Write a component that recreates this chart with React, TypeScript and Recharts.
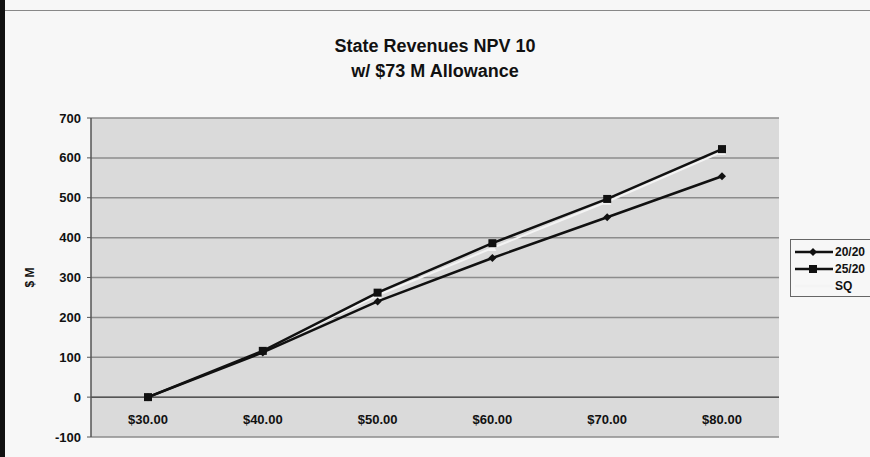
import React from "react";
import {
  LineChart,
  Line,
  XAxis,
  YAxis,
  CartesianGrid,
  ReferenceLine,
} from "recharts";

const prices = ["$30.00", "$40.00", "$50.00", "$60.00", "$70.00", "$80.00"];
const s2020 = [0, 112, 240, 349, 451, 554];
const s2520 = [0, 116, 262, 386, 497, 622];
const sq = [0, 116, 255, 374, 490, 615];
const yTicks = [-100, 0, 100, 200, 300, 400, 500, 600, 700];

const data = prices.map((p, i) => ({
  price: p,
  "20/20": s2020[i],
  "25/20": s2520[i],
  SQ: sq[i],
}));

const font = "'Liberation Sans', Arial, sans-serif";

const Diamond = (props: any) => {
  const { cx, cy } = props;
  if (cx == null || cy == null) return null;
  const r = 4;
  return (
    <polygon
      points={`${cx},${cy - r} ${cx + r},${cy} ${cx},${cy + r} ${cx - r},${cy}`}
      fill="#111"
    />
  );
};

const Square = (props: any) => {
  const { cx, cy } = props;
  if (cx == null || cy == null) return null;
  return <rect x={cx - 4} y={cy - 4} width={8} height={8} fill="#111" />;
};

const WhiteTri = (props: any) => {
  const { cx, cy } = props;
  if (cx == null || cy == null) return null;
  return (
    <polygon
      points={`${cx},${cy - 4} ${cx + 4},${cy + 3} ${cx - 4},${cy + 3}`}
      fill="#f4f4f4"
    />
  );
};

const XTick = (props: any) => {
  const { x, y, payload } = props;
  return (
    <text
      x={x}
      y={y - 13}
      textAnchor="middle"
      fontFamily={font}
      fontWeight="bold"
      fontSize={13}
      fill="#111"
    >
      {payload.value}
    </text>
  );
};

const legendRows = [
  { name: "20/20", color: "#111", mark: "d" },
  { name: "25/20", color: "#111", mark: "s" },
  { name: "SQ", color: "#f4f4f4", mark: "t" },
];

const LegendBox = () => (
  <div
    style={{
      position: "absolute",
      left: 790,
      top: 239,
      border: "1px solid #666",
      borderRight: "none",
      background: "#f7f7f7",
      width: 90,
      padding: "3px 0 2px 4px",
      fontFamily: font,
      fontWeight: "bold",
      fontSize: 12,
      color: "#111",
    }}
  >
    {legendRows.map((r) => (
      <div
        key={r.name}
        style={{ display: "flex", alignItems: "center", height: 17 }}
      >
        <svg width={40} height={12}>
          <line x1={0} y1={6} x2={38} y2={6} stroke={r.color} strokeWidth={2.5} />
          {r.mark === "d" && (
            <polygon points="18,2 22,6 18,10 14,6" fill={r.color} />
          )}
          {r.mark === "s" && (
            <rect x={14} y={2} width={8} height={8} fill={r.color} />
          )}
        </svg>
        <span>{r.name}</span>
      </div>
    ))}
  </div>
);

export default function App() {
  return (
    <div
      style={{
        position: "absolute",
        left: 0,
        top: 0,
        width: 870,
        height: 457,
        background: "#f7f7f7",
        overflow: "hidden",
      }}
    >
      <div
        style={{
          position: "absolute",
          left: 0,
          top: 0,
          width: 5,
          height: 457,
          background: "#111",
        }}
      />
      <div
        style={{
          position: "absolute",
          left: 5,
          top: 10,
          width: 865,
          height: 1,
          background: "#888",
        }}
      />
      <div
        style={{
          position: "absolute",
          top: 34,
          left: 0,
          width: 870,
          textAlign: "center",
          fontFamily: font,
          fontWeight: "bold",
          fontSize: 18,
          lineHeight: "25px",
          color: "#111",
        }}
      >
        <div>State Revenues NPV 10</div>
        <div>w/ $73 M Allowance</div>
      </div>
      <div style={{ position: "absolute", left: 0, top: 0 }}>
        <LineChart
          width={870}
          height={457}
          data={data}
          margin={{ top: 118, right: 91, bottom: 0, left: 0 }}
        >
          <CartesianGrid
            vertical={false}
            stroke="#8c8c8c"
            strokeWidth={1.5}
            fill="#dadada"
          />
          <XAxis
            dataKey="price"
            height={20}
            axisLine={false}
            tickLine={false}
            tickSize={0}
            tickMargin={0}
            tick={<XTick />}
            interval={0}
            padding={{ left: 57, right: 57 }}
          />
          <YAxis
            width={91}
            domain={[-100, 700]}
            ticks={yTicks}
            interval={0}
            axisLine={{ stroke: "#555", strokeWidth: 1.5 }}
            tickLine={{ stroke: "#555" }}
            tickSize={4}
            tickMargin={6}
            tick={{
              fontFamily: font,
              fontWeight: "bold",
              fontSize: 13,
              fill: "#111",
            }}
            label={{
              value: "$ M",
              angle: -90,
              position: "insideLeft",
              offset: 30,
              style: {
                fontFamily: font,
                fontWeight: "bold",
                fontSize: 12,
                fill: "#111",
                textAnchor: "middle",
              },
            }}
          />
          <ReferenceLine y={0} stroke="#555" strokeWidth={1.5} />
          <Line
            dataKey="SQ"
            stroke="#f4f4f4"
            strokeWidth={2}
            dot={<WhiteTri />}
            isAnimationActive={false}
          />
          <Line
            dataKey="20/20"
            stroke="#111"
            strokeWidth={2.5}
            dot={<Diamond />}
            isAnimationActive={false}
          />
          <Line
            dataKey="25/20"
            stroke="#111"
            strokeWidth={2.5}
            dot={<Square />}
            isAnimationActive={false}
          />
        </LineChart>
      </div>
      <LegendBox />
    </div>
  );
}
